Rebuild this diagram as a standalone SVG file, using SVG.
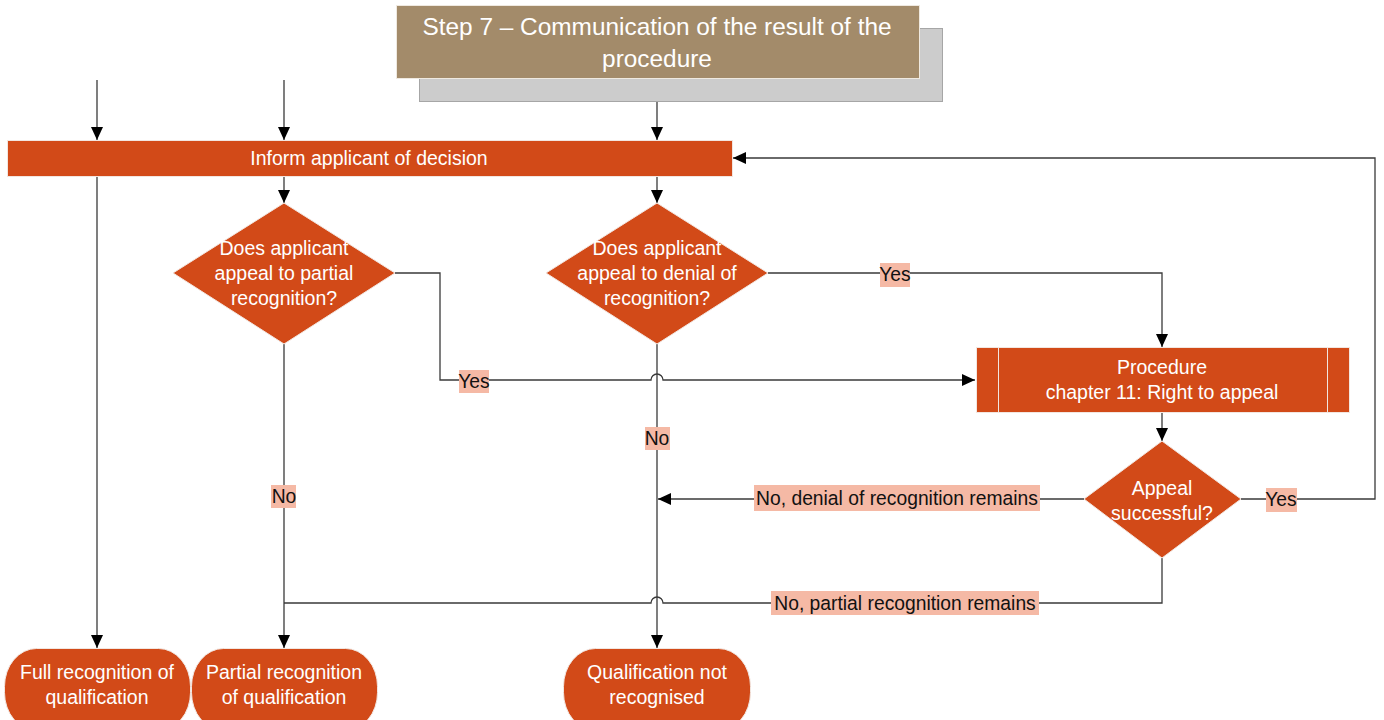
<svg xmlns="http://www.w3.org/2000/svg" width="1384" height="720" viewBox="0 0 1384 720">
<defs>
<style>
.shape{fill:#D24A18;stroke:#F2E6E0;stroke-width:1}
.t{font-family:"Liberation Sans",Arial,sans-serif;font-size:19.5px;fill:#FFFFFF;text-anchor:middle}
.lt{font-family:"Liberation Sans",Arial,sans-serif;font-size:19.3px;fill:#111111;text-anchor:middle}
.lb{fill:#F5B9A5}
.c{fill:none;stroke:#3A3A3A;stroke-width:1.3}
</style>
<marker id="arr" viewBox="0 0 13 12" refX="13" refY="6" markerWidth="13" markerHeight="12" markerUnits="userSpaceOnUse" orient="auto">
<path d="M0,0 L13,6 L0,12 z" fill="#000000"/>
</marker>
</defs>
<rect width="1384" height="720" fill="#FFFFFF"/>

<g id="connectors">
<path class="c" d="M97,80 V140" marker-end="url(#arr)"/>
<path class="c" d="M284,80 V140" marker-end="url(#arr)"/>
<path class="c" d="M657,78 V140" marker-end="url(#arr)"/>
<path class="c" d="M97,176 V648" marker-end="url(#arr)"/>
<path class="c" d="M284,176 V203" marker-end="url(#arr)"/>
<path class="c" d="M657,176 V203" marker-end="url(#arr)"/>
<path class="c" d="M395,273 H440 V380 H651 A6,6 0 0 1 663,380 H975" marker-end="url(#arr)"/>
<path class="c" d="M284,344 V648" marker-end="url(#arr)"/>
<path class="c" d="M657,344 V648" marker-end="url(#arr)"/>
<path class="c" d="M768,273 H1162 V347" marker-end="url(#arr)"/>
<path class="c" d="M1162,412 V441" marker-end="url(#arr)"/>
<path class="c" d="M1084,499 H658" marker-end="url(#arr)"/>
<path class="c" d="M1241,499 H1375 V158 H733" marker-end="url(#arr)"/>
<path class="c" d="M1162,558 V603 H663 A6,6 0 0 0 651,603 H284"/>
</g>

<g id="labels">
<rect class="lb" x="459" y="370" width="30" height="23"/><text class="lt" x="474" y="388">Yes</text>
<rect class="lb" x="880" y="263" width="30" height="24"/><text class="lt" x="895" y="281">Yes</text>
<rect class="lb" x="645" y="427" width="25" height="23"/><text class="lt" x="657" y="445">No</text>
<rect class="lb" x="271" y="485" width="25" height="23"/><text class="lt" x="284" y="503">No</text>
<rect class="lb" x="1266" y="488" width="31" height="24"/><text class="lt" x="1281" y="506">Yes</text>
<rect class="lb" x="754" y="485" width="286" height="26"/><text class="lt" x="897" y="505">No, denial of recognition remains</text>
<rect class="lb" x="771" y="591" width="268" height="24"/><text class="lt" x="905" y="610">No, partial recognition remains</text>
</g>

<g id="step7">
<rect x="419.5" y="28.5" width="523" height="73" fill="#CCCCCC" stroke="#A6A6A6" stroke-width="1"/>
<rect x="396.5" y="5.5" width="523" height="73" fill="#A38B6A" stroke="#EFE9E0" stroke-width="1"/>
<text class="t" x="657" y="34.5" style="font-size:24.4px">Step 7 – Communication of the result of the</text>
<text class="t" x="657" y="66.5" style="font-size:24.4px">procedure</text>
</g>

<g id="inform">
<rect class="shape" x="7.5" y="140.5" width="725" height="36"/>
<text class="t" x="369" y="165">Inform applicant of decision</text>
</g>

<g id="decision-partial">
<polygon class="shape" points="284,203 395,273 284,344 173,273"/>
<text class="t" x="284" y="255">Does applicant</text>
<text class="t" x="284" y="280">appeal to partial</text>
<text class="t" x="284" y="305">recognition?</text>
</g>

<g id="decision-denial">
<polygon class="shape" points="657,203 768,273 657,344 546,273"/>
<text class="t" x="657" y="255">Does applicant</text>
<text class="t" x="657" y="280">appeal to denial of</text>
<text class="t" x="657" y="305">recognition?</text>
</g>

<g id="procedure">
<rect class="shape" x="976.5" y="347.5" width="373" height="65"/>
<line x1="998.5" y1="347.5" x2="998.5" y2="412.5" stroke="#F2E6E0" stroke-width="1"/>
<line x1="1327.5" y1="347.5" x2="1327.5" y2="412.5" stroke="#F2E6E0" stroke-width="1"/>
<text class="t" x="1162" y="374">Procedure</text>
<text class="t" x="1162" y="399">chapter 11: Right to appeal</text>
</g>

<g id="decision-appeal">
<polygon class="shape" points="1162,441 1241,499 1162,558 1084,499"/>
<text class="t" x="1162" y="495">Appeal</text>
<text class="t" x="1162" y="520">successful?</text>
</g>

<g id="full">
<rect class="shape" x="4.5" y="648.5" width="186" height="82" rx="32" ry="38"/>
<text class="t" x="97" y="679">Full recognition of</text>
<text class="t" x="97" y="704">qualification</text>
</g>

<g id="partial">
<rect class="shape" x="191.5" y="648.5" width="186" height="82" rx="32" ry="38"/>
<text class="t" x="284" y="679">Partial recognition</text>
<text class="t" x="284" y="704">of qualification</text>
</g>

<g id="not-recognised">
<rect class="shape" x="563.5" y="648.5" width="187" height="82" rx="32" ry="38"/>
<text class="t" x="657" y="679">Qualification not</text>
<text class="t" x="657" y="704">recognised</text>
</g>
</svg>
